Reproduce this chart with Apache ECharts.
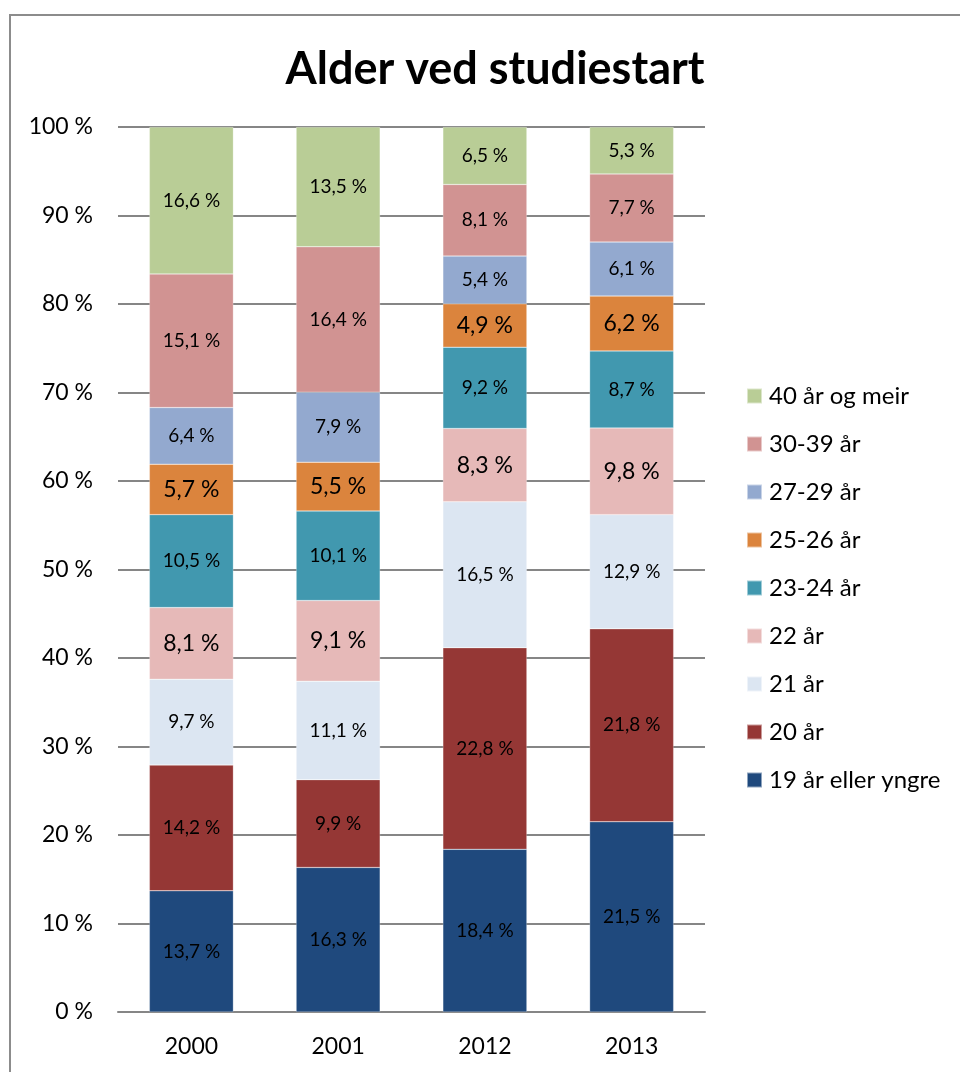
<!DOCTYPE html>
<html>
<head>
<meta charset="utf-8">
<title>Alder ved studiestart</title>
<script src="https://cdn.jsdelivr.net/npm/echarts@6/dist/echarts.min.js"></script>
<style>
  html, body { margin: 0; padding: 0; background: #fff; }
  #chart { width: 960px; height: 1072px; }
</style>
</head>
<body>
<div id="chart"></div>
<script>
  // år
  var years = ['2000', '2001', '2012', '2013'];

  // aldersgrupper, frå botn til topp
  var groups = ['19 år eller yngre', '20 år', '21 år', '22 år', '23-24 år', '25-26 år', '27-29 år', '30-39 år', '40 år og meir'];

  var age19 = [13.7, 16.3, 18.4, 21.5];
  var age20 = [14.2, 9.9, 22.8, 21.8];
  var age21 = [9.7, 11.1, 16.5, 12.9];
  var age22 = [8.1, 9.1, 8.3, 9.8];
  var age23_24 = [10.5, 10.1, 9.2, 8.7];
  var age25_26 = [5.7, 5.5, 4.9, 6.2];
  var age27_29 = [6.4, 7.9, 5.4, 6.1];
  var age30_39 = [15.1, 16.4, 8.1, 7.7];
  var age40 = [16.6, 13.5, 6.5, 5.3];

  var yTicks = [0, 10, 20, 30, 40, 50, 60, 70, 80, 90, 100];

  var values = [age19, age20, age21, age22, age23_24, age25_26, age27_29, age30_39, age40];
  var colors = ['#1F497D', '#953735', '#DCE6F2', '#E6B9B8', '#4198AF', '#DB843D', '#93A9CF', '#D19392', '#B9CD96'];
  // 22 år og 25-26 år har større etikettar
  var bigLabel = [false, false, false, true, false, true, false, false, false];

  // 100 % stabla: normaliser kvar søyle
  var totals = years.map(function (y, i) {
    return values.reduce(function (s, arr) { return s + arr[i]; }, 0);
  });

  var fontFamily = 'Lato, "Open Sans", sans-serif';

  var chart = echarts.init(document.getElementById('chart'));

  chart.setOption({
    animation: false,
    backgroundColor: '#fff',
    graphic: [{
      type: 'rect',
      shape: { x: 10, y: 15, width: 1000, height: 1100 },
      style: { fill: 'none', stroke: '#8c8c8c', lineWidth: 2 },
      silent: true
    }],
    title: {
      text: 'Alder ved studiestart',
      left: 490,
      top: 42,
      textAlign: 'center',
      textStyle: { fontFamily: fontFamily, fontSize: 45, fontWeight: 'bold', color: '#000' }
    },
    grid: { left: 118, right: 255, top: 127, bottom: 60 },
    legend: {
      orient: 'vertical',
      left: 746,
      top: 383,
      padding: 0,
      itemWidth: 15,
      itemHeight: 15,
      itemGap: 22,
      icon: 'rect',
      data: groups.slice().reverse(),
      textStyle: { fontFamily: fontFamily, fontSize: 24, color: '#000', lineHeight: 24, padding: [2, 0, 0, 2] }
    },
    xAxis: {
      type: 'category',
      data: years,
      axisLine: { lineStyle: { color: '#868686', width: 2 } },
      axisTick: { show: false },
      axisLabel: { fontFamily: fontFamily, fontSize: 23, color: '#000', margin: 23 }
    },
    yAxis: {
      type: 'value',
      min: yTicks[0],
      max: yTicks[yTicks.length - 1],
      interval: 10,
      axisLine: { show: false },
      axisTick: { show: false },
      splitLine: { lineStyle: { color: '#868686', width: 2 } },
      axisLabel: {
        fontFamily: fontFamily, fontSize: 23, color: '#000', margin: 25,
        formatter: function (v) { return v + ' %'; }
      }
    },
    series: groups.map(function (name, k) {
      return {
        name: name,
        type: 'bar',
        stack: 'alder',
        barWidth: 84,
        itemStyle: { color: colors[k], borderColor: 'rgba(255,255,255,0.5)', borderWidth: 0.5 },
        label: {
          show: true,
          position: 'inside',
          color: '#000',
          fontFamily: fontFamily,
          fontSize: bigLabel[k] ? 23 : 19,
          formatter: function (p) {
            return values[k][p.dataIndex].toFixed(1).replace('.', ',') + ' %';
          }
        },
        data: values[k].map(function (v, i) { return v / totals[i] * 100; })
      };
    })
  });
</script>
</body>
</html>
